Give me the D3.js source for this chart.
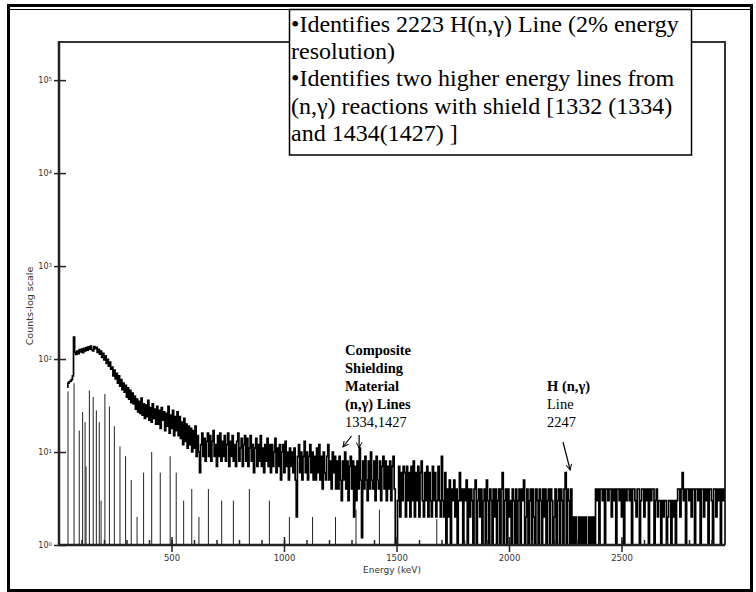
<!DOCTYPE html>
<html><head><meta charset="utf-8">
<script src="https://cdn.jsdelivr.net/npm/d3@7"></script>
<style>body{margin:0;background:#fff}</style>
</head><body><svg id="c" width="756" height="592"></svg>
<script>
// ---- data ----
const binStart = 37, binWidth = 5; // keV per channel
const spectrumCounts = [
50, 55, 57, 58, 60, 66, 172, 118, 112, 122, 114, 126, 119, 128, 117, 130, 122, 133, 125, 135,
128, 138, 126, 122, 136, 129, 134, 118, 127, 113, 122, 104, 115, 98, 108, 90, 99, 84, 93, 78,
82, 66, 76, 61, 70, 55, 66, 51, 60, 47, 55, 44, 52, 39, 49, 37, 46, 34, 43, 33,
40, 29, 37, 27, 35, 26, 38, 25, 33, 23, 32, 24, 36, 22, 30, 21, 33, 23, 29, 20,
31, 20, 28, 18, 30, 22, 27, 17, 26, 19, 31, 16, 25, 18, 28, 15, 24, 17, 27, 15,
24, 14, 21, 12, 23, 13, 20, 11, 19, 12, 18, 10, 17, 11, 19, 9, 15, 10, 6, 12,
16, 9, 14, 8, 13, 16, 9, 15, 8, 13, 17, 9, 12, 7, 15, 9, 16, 8, 13, 9,
15, 8, 12, 16, 7, 13, 9, 15, 8, 12, 7, 13, 16, 8, 11, 14, 7, 12, 15, 8,
14, 7, 11, 15, 8, 12, 6, 11, 14, 7, 12, 8, 15, 7, 11, 6, 12, 8, 14, 7,
12, 6, 12, 7, 10, 14, 6, 11, 7, 12, 5, 10, 12, 6, 13, 7, 10, 5, 11, 7,
10, 6, 11, 5, 2, 9, 12, 6, 10, 5, 9, 13, 6, 10, 5, 9, 12, 6, 10, 5,
9, 5, 11, 6, 12, 5, 9, 4, 10, 6, 5, 9, 12, 5, 8, 4, 10, 6, 9, 4,
8, 4, 9, 5, 3, 8, 5, 10, 4, 8, 3, 7, 9, 4, 8, 2, 7, 3, 8, 4,
11, 5, 1.2, 8, 4, 9, 5, 3, 8, 4, 10, 5, 4, 8, 3, 9, 5, 4, 8, 3,
7, 9, 4, 8, 3, 7, 4, 8, 3, 7, 9, 4, 1, 1, 3, 7, 2, 6, 3, 7,
6, 2, 7, 3, 6, 2, 7, 3, 8, 2, 6, 3, 7, 2, 6, 8, 3, 2, 6, 3,
7, 2, 6, 3, 2, 7, 3, 6, 2, 3, 7, 3, 2, 9, 3, 2, 6, 1, 4, 2,
5, 1, 4, 3, 5, 2, 4, 1, 3, 6, 3, 4, 1, 4, 3, 5, 1, 4, 2, 4,
3, 1, 4, 5, 1, 3, 4, 2, 4, 1, 3, 4, 1, 5, 3, 1, 4, 3, 1, 4,
2, 4, 1, 3, 4, 1, 4, 6, 1, 3, 4, 1, 4, 2, 3, 1, 4, 3, 1, 4,
1, 3, 4, 1, 4, 3, 5, 1, 2, 4, 1, 3, 4, 1, 4, 2, 1, 4, 3, 1,
4, 3, 1, 4, 2, 4, 1, 3, 4, 1, 4, 3, 1, 2, 4, 1, 3, 4, 1, 4,
3, 1, 4, 6, 1, 4, 3, 1, 4, 1, 2, 1, 2, 1, 1, 2, 1, 2, 1, 2,
1, 2, 1, 1, 2, 1, 2, 1, 2, 1, 4, 3, 4, 1, 4, 4, 3, 4, 1, 4,
4, 3, 4, 4, 2, 4, 3, 4, 1, 4, 4, 3, 4, 2, 4, 1, 4, 3, 4, 4,
3, 4, 1, 4, 4, 3, 2, 4, 4, 1, 3, 4, 4, 2, 4, 3, 4, 1, 4, 3,
4, 4, 1, 3, 4, 2, 3, 3, 1, 3, 2, 3, 3, 1, 2, 3, 3, 1, 3, 2,
3, 1, 3, 4, 4, 2, 4, 6, 3, 4, 1, 4, 4, 3, 4, 2, 4, 4, 1, 4,
4, 3, 4, 1, 4, 4, 2, 4, 3, 4, 1, 4, 4, 3, 1, 4, 4, 2, 4, 3,
4, 1, 4, 3, 4];
const lineEnergies = [40, 67, 90, 105, 116, 120, 135, 152, 166, 179, 187, 204, 224, 246, 271, 296, 321, 347, 376, 412, 450, 494, 521, 554, 590, 622, 664, 723, 775, 846, 935, 1024, 1127, 1229, 1320, 1424, 1679];
const lineCounts = [45, 55, 17, 27, 21, 7, 46, 39, 28, 21, 3, 42, 31, 19, 11.5, 9, 5, 2, 6, 10, 6, 9, 6, 3, 4, 2, 4, 3, 3, 4, 3, 2, 2, 2, 2.4, 2.4, 1.9];
const xMajorTicks = [500, 1000, 1500, 2000, 2500];
const xMinorTicks = d3.range(100, 2960, 100);
const yTickExponents = [0, 1, 2, 3, 4, 5];
const boxLines = ["\u2022Identifies 2223 H(n,\u03b3) Line (2% energy", "resolution)", "\u2022Identifies two higher energy lines from", "(n,\u03b3) reactions with shield [1332 (1334)", "and 1434(1427) ]"];
const shieldLabel = ["Composite", "Shielding", "Material", "(n,\u03b3) Lines", "1334,1427"];
const shieldBold = [true, true, true, true, false];
const hLabel = ["H (n,\u03b3)", "Line", "2247"];
const xTitle = "Energy (keV)";
const yTitle = "Counts-log scale";

// ---- drawing ----
const svg = d3.select('#c');
svg.append('rect').attr('width', 756).attr('height', 592).attr('fill', '#fff');

const L = 59, R = 725, T = 42, B = 545;
const x = d3.scaleLinear().domain([0, 2960]).range([L, R]);
const y = d3.scaleLog().domain([1, Math.pow(10, 5.41)]).range([B, T]);

// outer frame
svg.append('rect').attr('x', 8.5).attr('y', 5.5).attr('width', 743).attr('height', 585)
  .attr('fill', 'none').attr('stroke', '#000').attr('stroke-width', 3);
svg.append('line').attr('x1', 8).attr('x2', 752).attr('y1', 9.5).attr('y2', 9.5)
  .attr('stroke', '#000').attr('stroke-width', 1.2);

// plot frame (top + right)
svg.append('path').attr('d', `M${L},${T}H${R}V${B}`).attr('fill', 'none')
  .attr('stroke', '#333').attr('stroke-width', 2);

svg.append('clipPath').attr('id', 'pc').append('rect')
  .attr('x', L).attr('y', T).attr('width', R - L).attr('height', B - T);
const plot = svg.append('g').attr('clip-path', 'url(#pc)');

// thin line spectrum
plot.selectAll('line.sp').data(d3.zip(lineEnergies, lineCounts)).join('line')
  .attr('class', 'sp')
  .attr('x1', d => x(d[0])).attr('x2', d => x(d[0]))
  .attr('y1', y(1)).attr('y2', d => y(d[1]))
  .attr('stroke', '#222').attr('stroke-width', 1);

// thick spectrum
const pts = spectrumCounts.map((c, i) => [binStart + i * binWidth, c]);
plot.append('path').datum(pts)
  .attr('d', d3.line().x(d => x(d[0])).y(d => y(d[1])).curve(d3.curveStep))
  .attr('fill', 'none').attr('stroke', '#000').attr('stroke-width', 1.7).attr('stroke-linejoin', 'miter');

// x axis
const tickFont = '"DejaVu Sans", sans-serif';
const gx = svg.append('g').attr('transform', `translate(0,${B})`);
gx.append('g').call(d3.axisBottom(x).tickValues(xMinorTicks).tickSize(-5).tickFormat(''))
  .call(g => g.select('.domain').remove());
gx.append('g').call(d3.axisBottom(x).tickValues(xMajorTicks).tickSize(-8).tickFormat(''))
  .call(g => g.select('.domain').remove());
gx.append('g').call(d3.axisBottom(x).tickValues(xMajorTicks).tickSizeInner(7).tickSizeOuter(0).tickPadding(3).tickFormat(d3.format('d')))
  .call(g => g.select('.domain').remove())
  .call(g => g.selectAll('text').attr('font-size', 8.5).attr('font-family', tickFont).attr('fill', '#333'));
gx.selectAll('line').attr('stroke', '#222').attr('stroke-width', 1.5);
svg.append('line').attr('x1', L).attr('x2', R).attr('y1', B).attr('y2', B)
  .attr('stroke', '#222').attr('stroke-width', 2.5);

// y axis
const gy = svg.append('g').attr('transform', `translate(${L},0)`);
gy.append('g').call(d3.axisRight(y).tickValues(yTickExponents.map(e => Math.pow(10, e))).tickSize(7).tickFormat(''))
  .call(g => g.select('.domain').remove());
gy.append('g').call(d3.axisLeft(y).tickValues(yTickExponents.map(e => Math.pow(10, e))).tickSizeInner(5).tickSizeOuter(0).tickPadding(2).tickFormat(''))
  .call(g => g.select('.domain').remove())
  .call(g => g.selectAll('.tick').each(function(d) {
    const t = d3.select(this).append('text').attr('x', -7).attr('dy', '0.32em')
      .attr('text-anchor', 'end').attr('font-size', 8).attr('font-family', tickFont).attr('fill', '#333');
    t.append('tspan').text('10');
    t.append('tspan').attr('dy', '-0.4em').attr('font-size', 5.5).text(Math.round(Math.log10(d)));
  }));
gy.selectAll('line').attr('stroke', '#222').attr('stroke-width', 1.5);
svg.append('line').attr('x1', L).attr('x2', L).attr('y1', T - 1).attr('y2', B + 1)
  .attr('stroke', '#222').attr('stroke-width', 2.5);

// axis titles
svg.append('text').attr('x', x(1480)).attr('y', 573).attr('text-anchor', 'middle')
  .attr('font-size', 9).attr('font-family', tickFont).attr('fill', '#333').text(xTitle);
svg.append('text').attr('transform', 'translate(33,306) rotate(-90)').attr('text-anchor', 'middle')
  .attr('font-size', 9.5).attr('font-family', tickFont).attr('fill', '#333').text(yTitle);

// text box
const serif = '"Liberation Serif", "Times New Roman", serif';
svg.append('rect').attr('x', 289.5).attr('y', 9.5).attr('width', 402).attr('height', 145.5)
  .attr('fill', '#fff').attr('stroke', '#000').attr('stroke-width', 1.5);
svg.append('g').selectAll('text').data(boxLines).join('text')
  .attr('x', 291).attr('y', (d, i) => 32 + i * 27.2)
  .attr('font-family', serif).attr('font-size', 24)
  .attr('fill', '#000').text(d => d);

// annotations
svg.append('g').selectAll('text').data(shieldLabel).join('text')
  .attr('x', 345).attr('y', (d, i) => 355 + i * 18)
  .attr('font-family', serif).attr('font-size', 14.5)
  .attr('font-weight', (d, i) => shieldBold[i] ? 'bold' : 'normal')
  .attr('fill', '#000').text(d => d);
svg.append('g').selectAll('text').data(hLabel).join('text')
  .attr('x', 547).attr('y', (d, i) => 391 + i * 18)
  .attr('font-family', serif).attr('font-size', 14.5)
  .attr('font-weight', (d, i) => i === 0 ? 'bold' : 'normal')
  .attr('fill', '#000').text(d => d);

// arrows
const defs = svg.append('defs');
defs.append('marker').attr('id', 'ah').attr('viewBox', '0 0 10 10').attr('refX', 9).attr('refY', 5)
  .attr('markerWidth', 7).attr('markerHeight', 7).attr('markerUnits', 'userSpaceOnUse').attr('orient', 'auto')
  .append('path').attr('d', 'M1,1L9,5L1,9').attr('fill', 'none').attr('stroke', '#000').attr('stroke-width', 1.4);
const arrows = [
  [x(1300), 436, x(1262), 447],
  [x(1334), 435, x(1334), 448],
  [x(2240), 442, x(2272), 470]
];
svg.selectAll('line.arr').data(arrows).join('line').attr('class', 'arr')
  .attr('x1', d => d[0]).attr('y1', d => d[1]).attr('x2', d => d[2]).attr('y2', d => d[3])
  .attr('stroke', '#000').attr('stroke-width', 1.2).attr('marker-end', 'url(#ah)');
</script>
</body></html>
